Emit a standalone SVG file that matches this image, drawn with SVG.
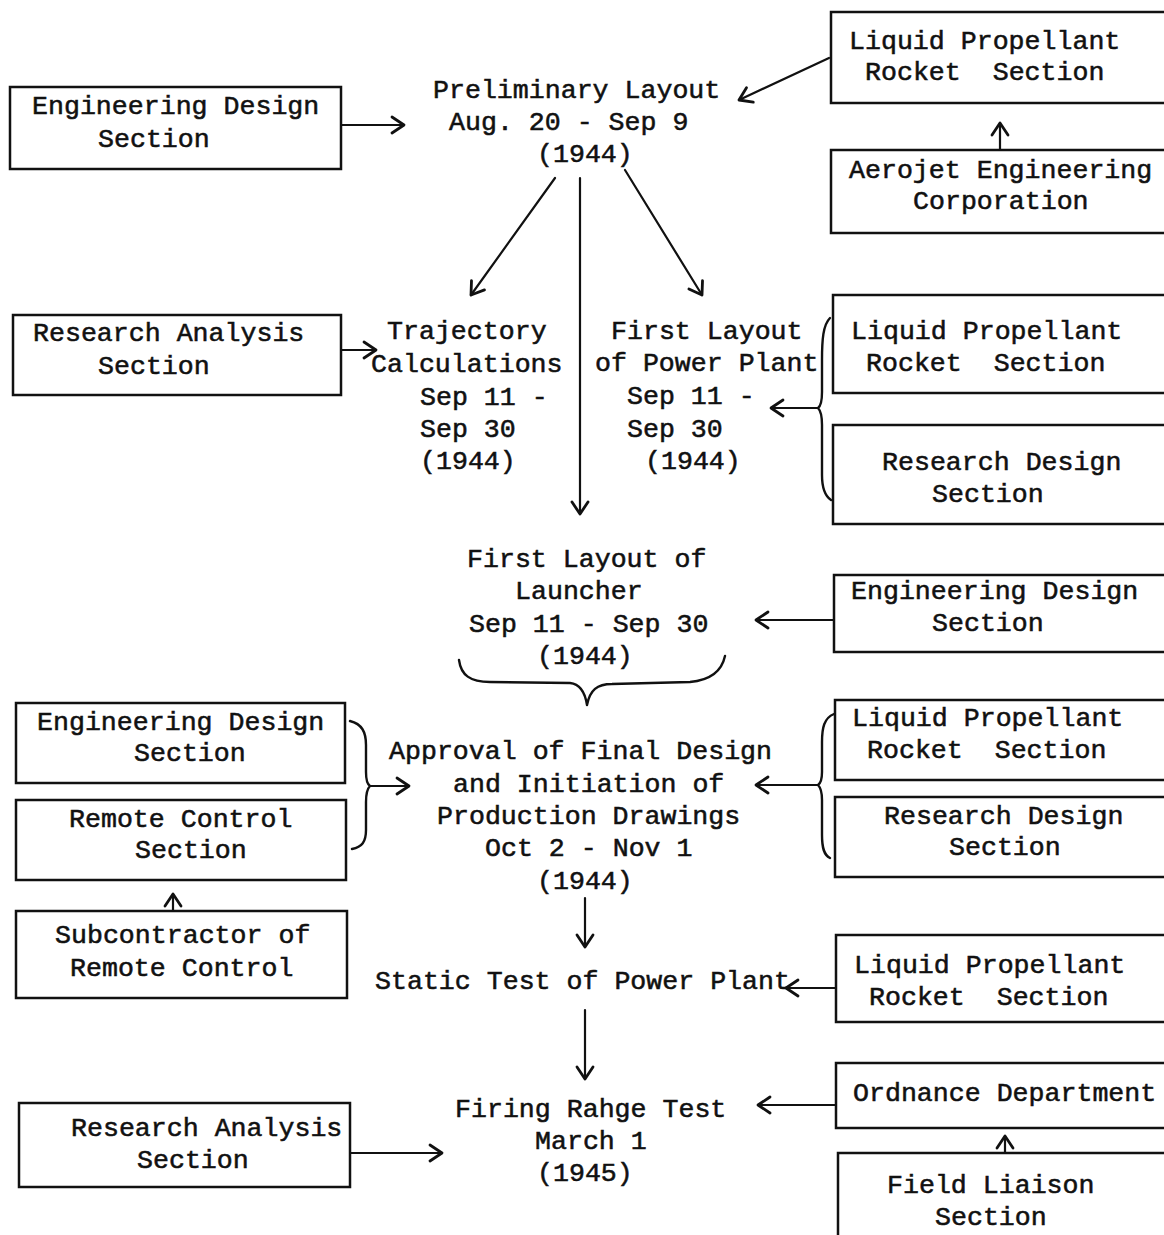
<svg xmlns="http://www.w3.org/2000/svg" width="1164" height="1235" viewBox="0 0 1164 1235">
<defs>
<style>
text{font-family:"Liberation Mono","DejaVu Sans Mono",monospace;font-size:26.6px;fill:#111;stroke:#111;stroke-width:0.55px;white-space:pre}
.box{fill:none;stroke:#111;stroke-width:2.5}
.ln{fill:none;stroke:#111;stroke-width:2.2;stroke-linecap:round}
.br{fill:none;stroke:#111;stroke-width:2.4;stroke-linecap:round;stroke-linejoin:round}
</style>
<marker id="ah" markerUnits="userSpaceOnUse" markerWidth="30" markerHeight="30" refX="0" refY="0" viewBox="-15 -15 30 30" orient="auto">
<path d="M-12 -8 L0 0 L-12 8" fill="none" stroke="#111" stroke-width="2.8" stroke-linecap="round" stroke-linejoin="round"/>
</marker>
</defs>
<rect width="1164" height="1235" fill="#fff"/>

<g id="n-eng-design-top">
<rect class="box" x="10" y="87" width="331" height="82"/>
<text x="32" y="114">Engineering Design</text>
<text x="98" y="147">Section</text>
</g>
<g id="n-preliminary">
<text x="433" y="98">Preliminary Layout</text>
<text x="449" y="130">Aug. 20 - Sep 9</text>
<text x="537" y="162">(1944)</text>
</g>
<g id="n-lpr-top">
<rect class="box" x="831" y="12" width="345" height="91"/>
<text x="849" y="49">Liquid Propellant</text>
<text x="865" y="80">Rocket  Section</text>
</g>
<g id="n-aerojet">
<rect class="box" x="831" y="150" width="345" height="83"/>
<text x="849" y="178">Aerojet Engineering</text>
<text x="913" y="209">Corporation</text>
</g>
<g id="n-research-analysis-top">
<rect class="box" x="13" y="315" width="328" height="80"/>
<text x="33" y="341">Research Analysis</text>
<text x="98" y="374">Section</text>
</g>
<g id="n-trajectory">
<text x="387" y="339">Trajectory</text>
<text x="371" y="372">Calculations</text>
<text x="420" y="405">Sep 11 -</text>
<text x="420" y="437">Sep 30</text>
<text x="420" y="469">(1944)</text>
</g>
<g id="n-power-plant-layout">
<text x="611" y="339">First Layout</text>
<text x="595" y="371">of Power Plant</text>
<text x="627" y="404">Sep 11 -</text>
<text x="627" y="437">Sep 30</text>
<text x="645" y="469">(1944)</text>
</g>
<g id="n-lpr-2">
<rect class="box" x="833" y="295" width="345" height="98"/>
<text x="851" y="339">Liquid Propellant</text>
<text x="866" y="371">Rocket  Section</text>
</g>
<g id="n-research-design-1">
<rect class="box" x="833" y="425" width="345" height="99"/>
<text x="882" y="470">Research Design</text>
<text x="932" y="502">Section</text>
</g>
<g id="n-launcher">
<text x="467" y="567">First Layout of</text>
<text x="515" y="599">Launcher</text>
<text x="469" y="632">Sep 11 - Sep 30</text>
<text x="537" y="664">(1944)</text>
</g>
<g id="n-eng-design-2">
<rect class="box" x="834" y="575" width="345" height="77"/>
<text x="851" y="599">Engineering Design</text>
<text x="932" y="631">Section</text>
</g>
<g id="n-eng-design-3">
<rect class="box" x="16" y="703" width="329" height="80"/>
<text x="37" y="730">Engineering Design</text>
<text x="134" y="761">Section</text>
</g>
<g id="n-remote-control">
<rect class="box" x="16" y="800" width="330" height="80"/>
<text x="69" y="827">Remote Control</text>
<text x="135" y="858">Section</text>
</g>
<g id="n-approval">
<text x="389" y="759">Approval of Final Design</text>
<text x="453" y="792">and Initiation of</text>
<text x="437" y="824">Production Drawings</text>
<text x="485" y="856">Oct 2 - Nov 1</text>
<text x="537" y="889">(1944)</text>
</g>
<g id="n-lpr-3">
<rect class="box" x="835" y="700" width="345" height="80"/>
<text x="852" y="726">Liquid Propellant</text>
<text x="867" y="758">Rocket  Section</text>
</g>
<g id="n-research-design-2">
<rect class="box" x="835" y="797" width="345" height="80"/>
<text x="884" y="824">Research Design</text>
<text x="949" y="855">Section</text>
</g>
<g id="n-subcontractor">
<rect class="box" x="16" y="911" width="331" height="87"/>
<text x="55" y="943">Subcontractor of</text>
<text x="70" y="976">Remote Control</text>
</g>
<g id="n-static-test">
<text x="375" y="989">Static Test of Power Plant</text>
</g>
<g id="n-lpr-4">
<rect class="box" x="836" y="935" width="345" height="87"/>
<text x="854" y="973">Liquid Propellant</text>
<text x="869" y="1005">Rocket  Section</text>
</g>
<g id="n-firing">
<text x="455" y="1117">Firing Rahge Test</text>
<text x="535" y="1149">March 1</text>
<text x="537" y="1181">(1945)</text>
</g>
<g id="n-research-analysis-2">
<rect class="box" x="19" y="1103" width="331" height="84"/>
<text x="71" y="1136">Research Analysis</text>
<text x="137" y="1168">Section</text>
</g>
<g id="n-ordnance">
<rect class="box" x="836" y="1063" width="345" height="65"/>
<text x="853" y="1101">Ordnance Department</text>
</g>
<g id="n-field-liaison">
<rect class="box" x="838" y="1153" width="345" height="100"/>
<text x="887" y="1193">Field Liaison</text>
<text x="935" y="1225">Section</text>
</g>

<g id="connectors">
<line class="ln" x1="341" y1="125" x2="404" y2="125" marker-end="url(#ah)"/>
<line class="ln" x1="829" y1="58" x2="739" y2="100" marker-end="url(#ah)"/>
<line class="ln" x1="1000" y1="150" x2="1000" y2="123" marker-end="url(#ah)"/>
<line class="ln" x1="555" y1="178" x2="471" y2="295" marker-end="url(#ah)"/>
<line class="ln" x1="580" y1="178" x2="580" y2="514" marker-end="url(#ah)"/>
<line class="ln" x1="625" y1="170" x2="702" y2="295" marker-end="url(#ah)"/>
<line class="ln" x1="341" y1="350" x2="376" y2="350" marker-end="url(#ah)"/>
<path class="br" d="M830 318 C823 325 822 340 822 360 L822 392 C822 401 821 406 818 408 C821 411 822 416 822 425 L822 475 C822 488 825 496 831 500"/>
<line class="ln" x1="818" y1="408" x2="771" y2="408" marker-end="url(#ah)"/>
<line class="ln" x1="834" y1="620" x2="756" y2="620" marker-end="url(#ah)"/>
<path class="br" d="M459 660 C461 675 470 682 490 682 L570 683 C580 684 585 692 587 705 C590 690 597 684 612 684 L690 682 C712 680 722 670 725 656"/>
<path class="br" d="M350 721 C362 724 366 732 366 745 L366 772 C366 780 367 784 370 786 C367 789 366 794 366 802 L366 830 C366 842 362 847 352 849"/>
<line class="ln" x1="370" y1="786" x2="409" y2="786" marker-end="url(#ah)"/>
<path class="br" d="M834 714 C824 718 822 728 822 742 L822 772 C822 779 821 783 818 785 C821 788 822 793 822 800 L822 835 C822 848 824 855 830 858"/>
<line class="ln" x1="818" y1="785" x2="756" y2="785" marker-end="url(#ah)"/>
<line class="ln" x1="173" y1="911" x2="173" y2="894" marker-end="url(#ah)"/>
<line class="ln" x1="585" y1="898" x2="585" y2="947" marker-end="url(#ah)"/>
<line class="ln" x1="836" y1="988" x2="786" y2="988" marker-end="url(#ah)"/>
<line class="ln" x1="585" y1="1010" x2="585" y2="1079" marker-end="url(#ah)"/>
<line class="ln" x1="350" y1="1153" x2="442" y2="1153" marker-end="url(#ah)"/>
<line class="ln" x1="836" y1="1105" x2="758" y2="1105" marker-end="url(#ah)"/>
<line class="ln" x1="1005" y1="1153" x2="1005" y2="1136" marker-end="url(#ah)"/>
</g>
</svg>
